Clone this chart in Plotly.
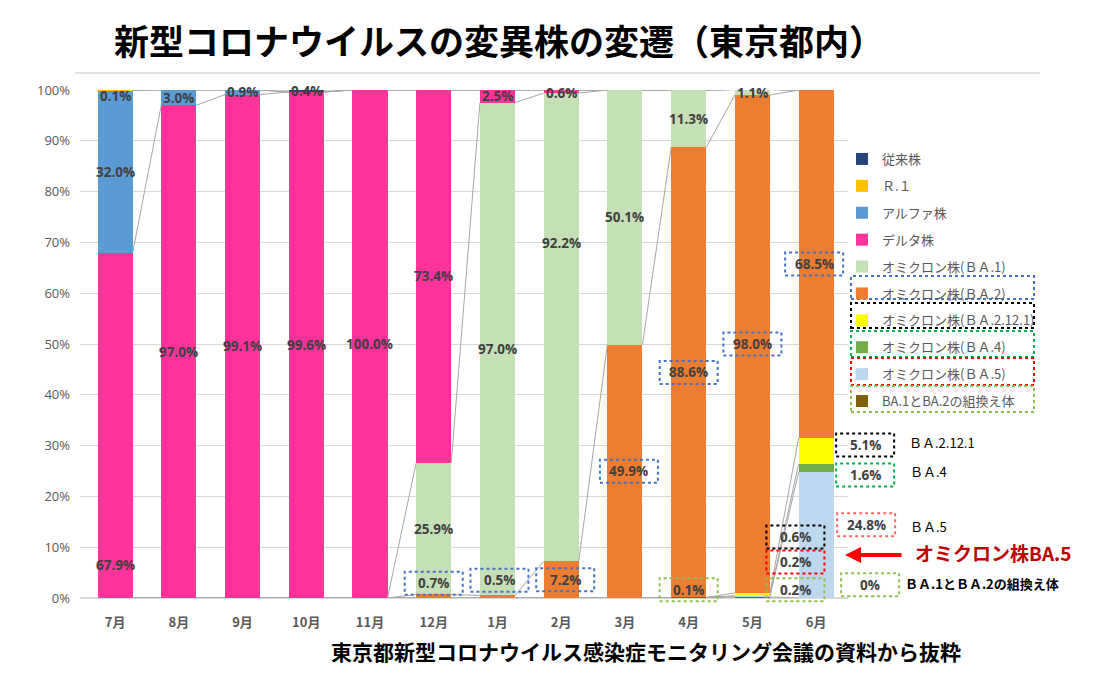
import plotly.graph_objects as go

months = ["7月", "8月", "9月", "10月", "11月", "12月", "1月", "2月", "3月", "4月", "5月", "6月"]

# series, bottom of stack -> top of stack (values in %)
series_names = ["BA.1とBA.2の組換え体", "オミクロン株(ＢＡ.5)", "オミクロン株(ＢＡ.4)",
                "オミクロン株(ＢＡ.2.12.1)", "オミクロン株(ＢＡ.2)", "オミクロン株(ＢＡ.1)",
                "デルタ株", "アルファ株", "Ｒ.１", "従来株"]
recomb = [0, 0, 0, 0, 0, 0, 0, 0, 0, 0.1, 0.2, 0]
ba5 = [0, 0, 0, 0, 0, 0, 0, 0, 0, 0, 0.2, 24.8]
ba4 = [0, 0, 0, 0, 0, 0, 0, 0, 0, 0, 0, 1.6]
ba2121 = [0, 0, 0, 0, 0, 0, 0, 0, 0, 0, 0.6, 5.1]
ba2 = [0, 0, 0, 0, 0, 0.7, 0.5, 7.2, 49.9, 88.6, 98.0, 68.5]
ba1 = [0, 0, 0, 0, 0, 25.9, 97.0, 92.2, 50.1, 11.3, 1.1, 0]
delta = [67.9, 97.0, 99.1, 99.6, 100.0, 73.4, 2.5, 0.6, 0, 0, 0, 0]
alpha = [32.0, 3.0, 0.9, 0, 0, 0, 0, 0, 0, 0, 0, 0]
r1 = [0.1, 0, 0, 0, 0, 0, 0, 0, 0, 0, 0, 0]
conventional = [0, 0, 0, 0.4, 0, 0, 0, 0, 0, 0, 0, 0]
series_values = [recomb, ba5, ba4, ba2121, ba2, ba1, delta, alpha, r1, conventional]
series_colors = ["#7f6000", "#bdd7ee", "#70ad47", "#ffff00", "#ed7d31", "#c5e0b4",
                 "#ff3399", "#5b9bd5", "#ffc000", "#264478"]

right_notes = ["ＢＡ.2.12.1", "ＢＡ.4", "ＢＡ.5", "<b>ＢＡ.1とＢＡ.2の組換え体</b>"]
title_text = "新型コロナウイルスの変異株の変遷（東京都内）"
footer_text = "東京都新型コロナウイルス感染症モニタリング会議の資料から抜粋"
callout_text = "オミクロン株BA.5"

# ---------------- geometry helpers ----------------
W, H = 1102, 679
ML, MR, MT, MB = 80, 254, 90, 81
XR = [-0.55, 11.5]
PW, PH = W - ML - MR, H - MT - MB
PXU = PW / (XR[1] - XR[0])          # px per category unit
PXP = PH / 100.0                    # px per percent
BW = 0.55


def pxx(px):
    return (px - ML) / PW


def pxy(py):
    return (H - MB - py) / PH


def dxp(xd):
    return (xd - XR[0]) / (XR[1] - XR[0])


def dyp(yd):
    return yd / 100.0


x_idx = list(range(len(months)))

fig = go.Figure()

# cumulative tops
cum = []
run = [0.0] * len(months)
for vals in series_values:
    run = [a + b for a, b in zip(run, vals)]
    cum.append(run[:])

n = len(series_names)
for k, (name, vals, col) in enumerate(zip(series_names, series_values, series_colors)):
    fig.add_trace(go.Bar(x=x_idx, y=vals, name=name, marker=dict(color=col, line=dict(width=0)),
                         width=BW, legendgroup=f"g{k}", legendrank=n - k))

# series lines (Excel-like)
lx, ly = [], []
for tops in cum:
    for i in range(len(months) - 1):
        lx += [i + BW / 2, i + 1 - BW / 2, None]
        ly += [tops[i], tops[i + 1], None]
fig.add_trace(go.Scatter(x=lx, y=ly, mode="lines", line=dict(color="#a6a6a6", width=1),
                         showlegend=False, hoverinfo="skip"))

# ---------------- data labels ----------------
S_RC, S_B5, S_B4, S_B21, S_B2, S_B1, S_D, S_A, S_R, S_C = range(10)

# (month, series, y override in % or None=center, dx px, box color)
label_specs = [
    (0, S_D, 6.5, 0, None), (0, S_A, None, 0, None), (0, S_R, 98.8, 0, None),
    (1, S_D, None, 0, None), (1, S_A, None, 0, None),
    (2, S_D, None, 0, None), (2, S_A, 99.6, 0, None),
    (3, S_D, None, 0, None), (3, S_C, 99.9, 0, None),
    (4, S_D, None, 0, None),
    (5, S_B2, 2.9, 0, "#4472c4"), (5, S_B1, None, 0, None), (5, S_D, None, 0, None),
    (6, S_B2, 3.5, 2, "#4472c4"), (6, S_B1, None, 0, None), (6, S_D, None, 0, None),
    (7, S_B2, None, 4, "#4472c4"), (7, S_B1, 69.9, 0, None), (7, S_D, 99.4, 0, None),
    (8, S_B2, None, 4, "#4472c4"), (8, S_B1, None, 0, None),
    (9, S_RC, 1.6, 0, "#8fbf4f"), (9, S_B2, None, 0, "#4472c4"), (9, S_B1, None, 0, None),
    (10, S_RC, 1.6, 43, "#8fbf4f"), (10, S_B5, 7.1, 43, "#ff0000"),
    (10, S_B21, 12.0, 43, "#000000"), (10, S_B2, None, 0, "#4472c4"), (10, S_B1, 99.4, 0, None),
    (11, S_RC, 2.6, 54, "#8fbf4f"), (11, S_B5, 14.4, 50, "#ff6666"),
    (11, S_B4, 24.2, 49, "#00b050"), (11, S_B21, 30.1, 49, "#000000"),
    (11, S_B2, None, -2, "#4472c4"),
]

annotations = []
shapes = []
for m, s, yo, dx, bc in label_specs:
    v = series_values[s][m]
    top = cum[s][m]
    yc = top - v / 2 if yo is None else yo
    xc = m + dx / PXU
    txt = "0%" if v == 0 else f"{v:.1f}%"
    annotations.append(dict(x=dxp(xc), y=dyp(yc), xref="paper", yref="paper", text=f"<b>{txt}</b>",
                            showarrow=False, xanchor="center", yanchor="middle",
                            font=dict(family="Open Sans, Liberation Sans, sans-serif", size=13.5,
                                      color="#404040")))
    if bc:
        hw, hh = 29 / PXU, 11.5 / PXP
        shapes.append(dict(type="rect", xref="paper", yref="paper", x0=dxp(xc - hw), x1=dxp(xc + hw),
                           y0=dyp(yc - hh), y1=dyp(yc + hh),
                           line=dict(color=bc, width=2, dash="dot"), fillcolor="rgba(0,0,0,0)"))

# dotted boxes around legend items (BA.2, BA.2.12.1, BA.4, BA.5, recombinant)
legend_boxes = [("#4472c4", 276, 299), ("#000000", 303, 328), ("#00b050", 331, 357),
                ("#ff0000", 358, 385), ("#8fbf4f", 386, 412)]
for c, y0, y1 in legend_boxes:
    shapes.append(dict(type="rect", xref="paper", yref="paper", x0=pxx(851), x1=pxx(1034),
                       y0=pxy(y1), y1=pxy(y0), line=dict(color=c, width=2, dash="dot"),
                       fillcolor="rgba(0,0,0,0)"))

# line under the title
shapes.append(dict(type="line", xref="paper", yref="paper", x0=pxx(75), x1=pxx(1040),
                   y0=pxy(73), y1=pxy(73), line=dict(color="#d9d9d9", width=1.5)))

# right-side notes
note_pos = [(907, 442), (908, 471), (908, 526), (903, 583)]
for t, (px, py) in zip(right_notes, note_pos):
    annotations.append(dict(x=pxx(px), y=pxy(py), xref="paper", yref="paper", text=t,
                            showarrow=False, xanchor="left", yanchor="middle",
                            font=dict(family="Noto Sans CJK JP", size=13, color="#000000")))

# callout
annotations.append(dict(x=pxx(913), y=pxy(552), xref="paper", yref="paper",
                        text=f"<b>{callout_text}</b>", showarrow=False, xanchor="left",
                        yanchor="middle", font=dict(family="Noto Sans CJK JP", size=19, color="#c00000")))
annotations.append(dict(x=pxx(845), y=pxy(555), xref="paper", yref="paper", text="",
                        showarrow=True, ax=58, ay=0, arrowhead=2, arrowsize=0.8, arrowwidth=4,
                        arrowcolor="#ff0000"))

# title & footer
annotations.append(dict(x=pxx(499), y=pxy(40), xref="paper", yref="paper",
                        text=f"<b>{title_text}</b>", showarrow=False, xanchor="center", yanchor="middle",
                        font=dict(family="Noto Sans CJK JP", size=35, color="#000000")))
annotations.append(dict(x=pxx(646), y=pxy(651), xref="paper", yref="paper",
                        text=f"<b>{footer_text}</b>", showarrow=False, xanchor="center", yanchor="middle",
                        font=dict(family="Noto Sans CJK JP", size=21, color="#000000")))

fig.update_layout(
    width=W, height=H, autosize=False,
    margin=dict(l=ML, r=MR, t=MT, b=MB, pad=0),
    paper_bgcolor="white", plot_bgcolor="white",
    barmode="stack", bargap=0,
    showlegend=True,
    legend=dict(x=pxx(842), y=pxy(144), xanchor="left", yanchor="top",
                traceorder="grouped", tracegroupgap=7,
                font=dict(family="Noto Sans CJK JP", size=13, color="#595959"),
                bgcolor="rgba(0,0,0,0)", itemwidth=30),
    xaxis=dict(range=XR, tickvals=x_idx, ticktext=[f"<b>{m}</b>" for m in months],
               showgrid=False, zeroline=False, showline=False, ticks="", ticklabelstandoff=15,
               tickfont=dict(family="Noto Sans CJK JP", size=13, color="#595959")),
    yaxis=dict(range=[0, 100], tickvals=list(range(0, 101, 10)),
               ticktext=[f"{v}%" for v in range(0, 101, 10)],
               showgrid=True, gridcolor="#d9d9d9", gridwidth=1, zeroline=True,
               zerolinecolor="#d9d9d9", showline=False, ticks="", ticklabelstandoff=9,
               tickfont=dict(family="Open Sans, sans-serif", size=13, color="#595959")),
    annotations=annotations, shapes=shapes,
    font=dict(family="Noto Sans CJK JP"),
)

fig.write_html("out.html", config={"displayModeBar": False},
               post_script="document.body.style.margin='0px';")
